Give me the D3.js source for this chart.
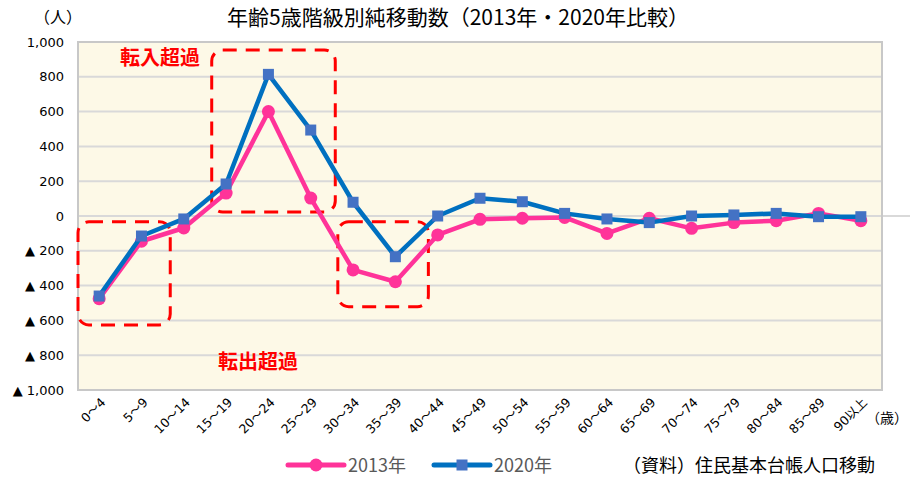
<!DOCTYPE html>
<html>
<head>
<meta charset="utf-8">
<script src="https://cdn.jsdelivr.net/npm/d3@7"></script>
<style>
  body { margin: 0; background: #fff; }
  text { font-family: "Noto Sans CJK JP", "DejaVu Sans", sans-serif; }
</style>
</head>
<body>
<div class="container"></div>
<script>
const w = 910;
const h = 479;

// data
const ageGroups = ['0～4', '5～9', '10～14', '15～19', '20～24', '25～29', '30～34', '35～39', '40～44',
    '45～49', '50～54', '55～59', '60～64', '65～69', '70～74', '75～79', '80～84', '85～89', '90以上'];
const values2013 = [-475, -145, -69, 132, 600, 103, -310, -378, -109,
    -19, -13, -8, -100, -13, -71, -38, -27, 15, -27];
const values2020 = [-460, -115, -17, 184, 814, 494, 79, -234, 0,
    102, 82, 15, -17, -38, 0, 6, 15, -4, -4];
const yTicks = [-1000, -800, -600, -400, -200, 0, 200, 400, 600, 800, 1000];

// annotation boxes (category index span, value span)
const boxIdx = [[-0.5, 1.68], [2.66, 5.58], [5.64, 7.78]];
const boxVal = [[-33, -626], [954, 23], [-33, -521]];

const plot = { left: 78, right: 882, top: 42, bottom: 390 };

const svg = d3.select('.container')
    .append('svg')
    .attr('width', w)
    .attr('height', h);

const xScale = d3.scaleBand()
    .domain(ageGroups)
    .range([plot.left, plot.right]);
const xIdx = d3.scaleLinear()
    .domain([-0.5, ageGroups.length - 0.5])
    .range([plot.left, plot.right]);
const yScale = d3.scaleLinear()
    .domain([-1000, 1000])
    .range([plot.bottom, plot.top]);
const cx = d => xScale(d) + xScale.bandwidth() / 2;

// background
svg.append('rect')
    .attr('x', plot.left)
    .attr('y', plot.top)
    .attr('width', plot.right - plot.left)
    .attr('height', plot.bottom - plot.top)
    .attr('fill', '#fdf9e7');

// grid
svg.append('g')
    .selectAll('line')
    .data(yTicks)
    .enter()
    .append('line')
    .attr('x1', plot.left)
    .attr('x2', d => d === 0 ? w : plot.right)
    .attr('y1', d => yScale(d))
    .attr('y2', d => yScale(d))
    .attr('stroke', '#d9d9d9')
    .attr('stroke-width', 2);

// border
svg.append('rect')
    .attr('x', plot.left)
    .attr('y', plot.top)
    .attr('width', plot.right - plot.left)
    .attr('height', plot.bottom - plot.top)
    .attr('fill', 'none')
    .attr('stroke', '#c8c8c8')
    .attr('stroke-width', 2);

// y axis labels
const yAxis = d3.axisLeft(yScale)
    .tickValues(yTicks)
    .tickSize(0)
    .tickPadding(14)
    .tickFormat(d => d < 0 ? '▲ ' + d3.format(',')(-d) : d3.format(',')(d));
const gy = svg.append('g')
    .attr('id', 'y-axis')
    .attr('transform', `translate(${plot.left}, 0)`)
    .call(yAxis);
gy.select('.domain').remove();
gy.selectAll('text')
    .style('font-family', '"DejaVu Sans", sans-serif')
    .style('font-size', '13px')
    .attr('fill', '#000');

// x axis labels
const xAxis = d3.axisBottom(xScale).tickSize(0).tickPadding(0);
const gx = svg.append('g')
    .attr('id', 'x-axis')
    .attr('transform', `translate(0, ${plot.bottom})`)
    .call(xAxis);
gx.select('.domain').remove();
gx.selectAll('text')
    .attr('transform', 'translate(4, 10) rotate(-45)')
    .attr('dy', '0.35em')
    .attr('text-anchor', 'end')
    .style('font-family', '"DejaVu Sans", "Noto Sans CJK JP", sans-serif')
    .style('font-size', '12.5px')
    .attr('fill', '#000');

// annotation boxes
svg.append('g')
    .selectAll('rect')
    .data(boxIdx)
    .enter()
    .append('rect')
    .attr('x', d => xIdx(d[0]))
    .attr('width', d => xIdx(d[1]) - xIdx(d[0]))
    .attr('y', (d, i) => yScale(boxVal[i][0]))
    .attr('height', (d, i) => yScale(boxVal[i][1]) - yScale(boxVal[i][0]))
    .attr('rx', 11)
    .attr('fill', 'none')
    .attr('stroke', '#ff0000')
    .attr('stroke-width', 3)
    .attr('stroke-dasharray', '14 9');

// lines
const line = d3.line()
    .x((d, i) => cx(ageGroups[i]))
    .y(d => yScale(d));

svg.append('path')
    .datum(values2013)
    .attr('d', line)
    .attr('fill', 'none')
    .attr('stroke', '#ff3399')
    .attr('stroke-width', 4.5)
    .attr('stroke-linejoin', 'round');

svg.append('g')
    .selectAll('circle')
    .data(values2013)
    .enter()
    .append('circle')
    .attr('cx', (d, i) => cx(ageGroups[i]))
    .attr('cy', d => yScale(d))
    .attr('r', 6.5)
    .attr('fill', '#ff3399');

svg.append('path')
    .datum(values2020)
    .attr('d', line)
    .attr('fill', 'none')
    .attr('stroke', '#0070c0')
    .attr('stroke-width', 4.5)
    .attr('stroke-linejoin', 'round');

svg.append('g')
    .selectAll('rect')
    .data(values2020)
    .enter()
    .append('rect')
    .attr('x', (d, i) => cx(ageGroups[i]) - 5.5)
    .attr('y', d => yScale(d) - 5.5)
    .attr('width', 11)
    .attr('height', 11)
    .attr('fill', '#4472c4');

// annotation text
svg.append('text')
    .attr('x', 120)
    .attr('y', 65)
    .attr('fill', '#ff0000')
    .style('font-size', '20px')
    .style('font-weight', 'bold')
    .text('転入超過');
svg.append('text')
    .attr('x', 218)
    .attr('y', 369)
    .attr('fill', '#ff0000')
    .style('font-size', '20px')
    .style('font-weight', 'bold')
    .text('転出超過');

// titles
svg.append('text')
    .attr('x', 458)
    .attr('y', 25)
    .attr('text-anchor', 'middle')
    .style('font-size', '21px')
    .attr('fill', '#000')
    .text('年齢5歳階級別純移動数（2013年・2020年比較）');
svg.append('text')
    .attr('x', 34)
    .attr('y', 23)
    .style('font-size', '16px')
    .text('（人）');
svg.append('text')
    .attr('x', 866)
    .attr('y', 423)
    .style('font-size', '14px')
    .text('（歳）');

// legend
const legend = svg.append('g').attr('transform', 'translate(0, 465)');
legend.append('line')
    .attr('x1', 288).attr('x2', 344).attr('y1', 0).attr('y2', 0)
    .attr('stroke', '#ff3399').attr('stroke-width', 5).attr('stroke-linecap', 'round');
legend.append('circle')
    .attr('cx', 316).attr('cy', 0).attr('r', 6.5).attr('fill', '#ff3399');
legend.append('text')
    .attr('x', 348).attr('y', 7)
    .style('font-size', '18px').attr('fill', '#595959')
    .text('2013年');
legend.append('line')
    .attr('x1', 434).attr('x2', 490).attr('y1', 0).attr('y2', 0)
    .attr('stroke', '#0070c0').attr('stroke-width', 5).attr('stroke-linecap', 'round');
legend.append('rect')
    .attr('x', 456.5).attr('y', -5.5).attr('width', 11).attr('height', 11).attr('fill', '#4472c4');
legend.append('text')
    .attr('x', 494).attr('y', 7)
    .style('font-size', '18px').attr('fill', '#595959')
    .text('2020年');

svg.append('text')
    .attr('x', 623)
    .attr('y', 472)
    .style('font-size', '18px')
    .attr('fill', '#000')
    .text('（資料）住民基本台帳人口移動');
</script>
</body>
</html>
